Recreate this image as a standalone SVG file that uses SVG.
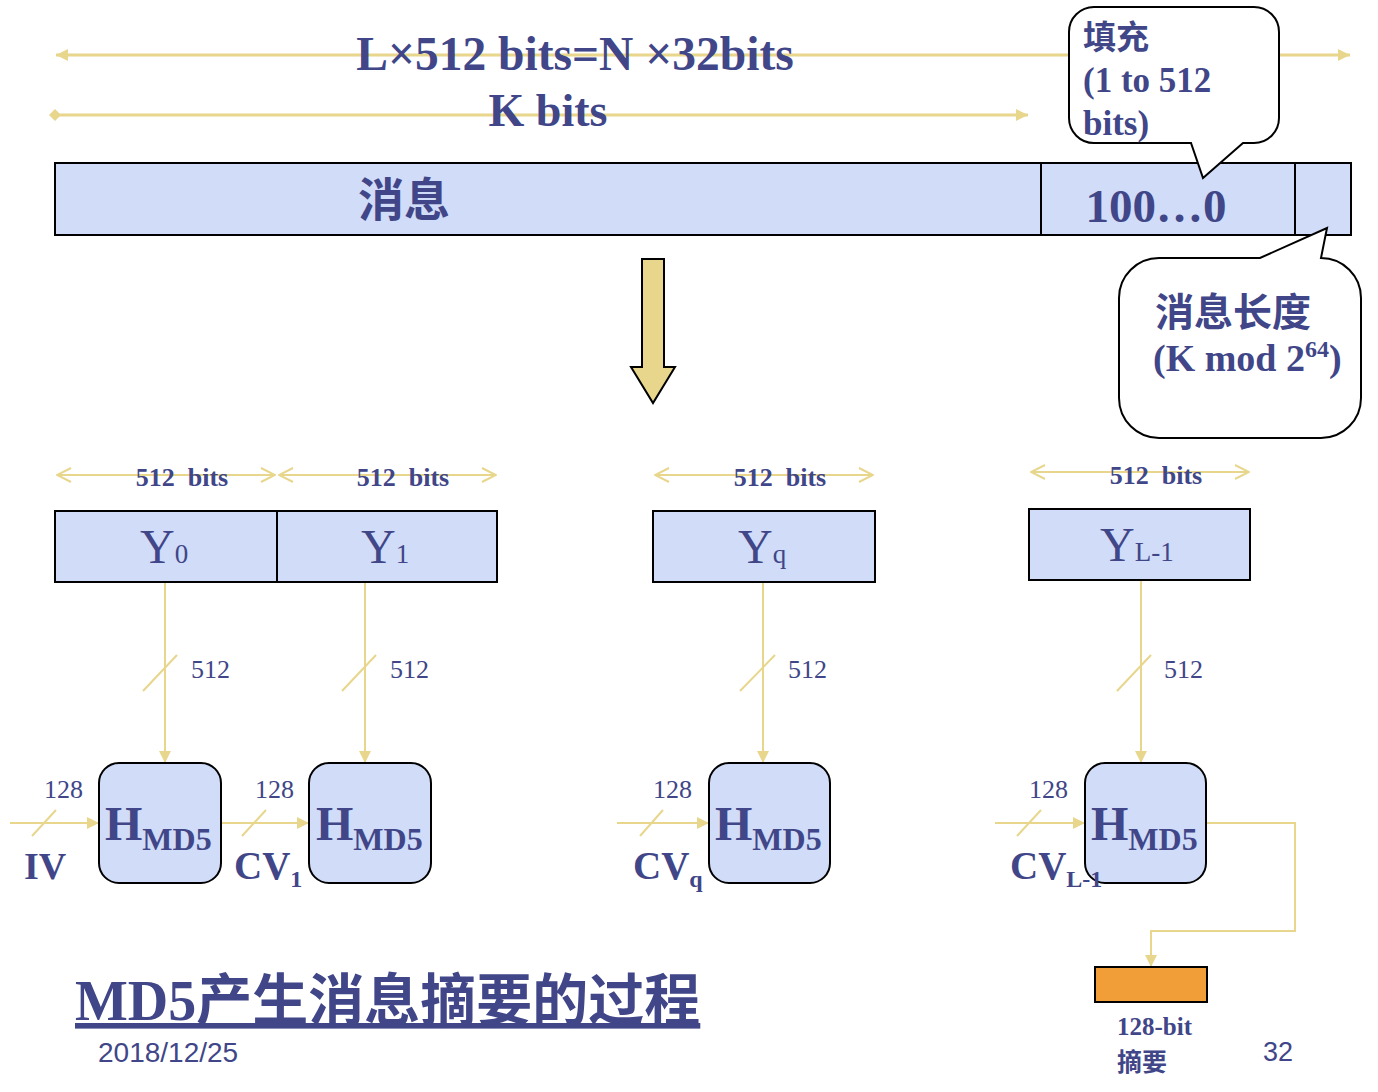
<svg xmlns="http://www.w3.org/2000/svg" width="1378" height="1092" viewBox="0 0 1378 1092">
<style>
.t{fill:#404688;font-family:"Liberation Serif","Noto Sans CJK SC",serif;}
.b{font-weight:bold;}
.cjk{fill:#404688;font-family:"Noto Sans CJK SC",sans-serif;font-weight:bold;}
.sans{fill:#404688;font-family:"Liberation Sans",sans-serif;}
.ln{stroke:#e8d68c;stroke-width:2;fill:none;}
.ln3{stroke:#e8d68c;stroke-width:3;fill:none;}
.blk{fill:#d0dcf8;stroke:#000;stroke-width:2;}
.hm{fill:#d0dcf8;stroke:#000;stroke-width:2;}
.call{fill:#fff;stroke:#000;stroke-width:2;}
.pre{white-space:pre;}
</style>
<defs>
<marker id="tri" viewBox="0 0 12 12" refX="12" refY="6" markerWidth="12" markerHeight="12" markerUnits="userSpaceOnUse" orient="auto-start-reverse"><path d="M0,0 L12,6 L0,12 z" fill="#e8d68c"/></marker>
<marker id="chev" viewBox="0 0 16 16" refX="15" refY="8" markerWidth="16" markerHeight="16" markerUnits="userSpaceOnUse" orient="auto-start-reverse"><path d="M1,1 L15,8 L1,15" fill="none" stroke="#e8d68c" stroke-width="2"/></marker>
<marker id="dia" viewBox="0 0 12 12" refX="6" refY="6" markerWidth="12" markerHeight="12" markerUnits="userSpaceOnUse"><path d="M0,6 L6,0 L12,6 L6,12 z" fill="#e8d68c"/></marker>
</defs>
<rect width="1378" height="1092" fill="#fff"/>

<g id="connectors">
<line class="ln3" x1="56" y1="55" x2="1350" y2="55" marker-start="url(#tri)" marker-end="url(#tri)"/>
<line class="ln3" x1="55" y1="115" x2="1028" y2="115" marker-start="url(#dia)" marker-end="url(#tri)"/>
<line class="ln" x1="57" y1="475" x2="275" y2="475" marker-start="url(#chev)" marker-end="url(#chev)"/>
<line class="ln" x1="279" y1="475" x2="496" y2="475" marker-start="url(#chev)" marker-end="url(#chev)"/>
<line class="ln" x1="655" y1="475" x2="873" y2="475" marker-start="url(#chev)" marker-end="url(#chev)"/>
<line class="ln" x1="1031" y1="472" x2="1249" y2="472" marker-start="url(#chev)" marker-end="url(#chev)"/>
<line class="ln" x1="165" y1="583" x2="165" y2="763" marker-end="url(#tri)"/>
<line class="ln" x1="365" y1="583" x2="365" y2="763" marker-end="url(#tri)"/>
<line class="ln" x1="763" y1="583" x2="763" y2="763" marker-end="url(#tri)"/>
<line class="ln" x1="1141" y1="581" x2="1141" y2="763" marker-end="url(#tri)"/>
<line class="ln" x1="143" y1="691" x2="177" y2="655"/>
<line class="ln" x1="342" y1="691" x2="376" y2="655"/>
<line class="ln" x1="740" y1="691" x2="775" y2="655"/>
<line class="ln" x1="1117" y1="691" x2="1151" y2="655"/>
<line class="ln" x1="10" y1="823" x2="99" y2="823" marker-end="url(#tri)"/>
<line class="ln" x1="221" y1="823" x2="309" y2="823" marker-end="url(#tri)"/>
<line class="ln" x1="617" y1="823" x2="709" y2="823" marker-end="url(#tri)"/>
<line class="ln" x1="995" y1="823" x2="1085" y2="823" marker-end="url(#tri)"/>
<line class="ln" x1="32" y1="836" x2="56" y2="810"/>
<line class="ln" x1="242" y1="836" x2="266" y2="810"/>
<line class="ln" x1="640" y1="836" x2="663" y2="810"/>
<line class="ln" x1="1017" y1="836" x2="1041" y2="810"/>
<polyline class="ln" points="1207,823 1295,823 1295,931 1151,931 1151,967" marker-end="url(#tri)"/>
</g>

<g id="labels-top">
<text class="t b" x="575" y="70" font-size="47.5" text-anchor="middle">L×512 bits=N ×32bits</text>
<text class="t b" x="548" y="126" font-size="46" text-anchor="middle">K bits</text>
</g>

<g id="message">
<rect class="blk" x="55" y="163" width="1296" height="72"/>
<line x1="1041" y1="163" x2="1041" y2="235" stroke="#000" stroke-width="2"/>
<line x1="1295" y1="163" x2="1295" y2="235" stroke="#000" stroke-width="2"/>
<text class="cjk" x="404" y="216" font-size="46" text-anchor="middle">消息</text>
<text class="t b" x="1156" y="222" font-size="47" text-anchor="middle">100…0</text>
</g>

<g id="callout-padding">
<path class="call" d="M1094,7 H1254 A25,25 0 0 1 1279,32 V118 A25,25 0 0 1 1254,143 H1243 L1203,178 L1191,143 H1094 A25,25 0 0 1 1069,118 V32 A25,25 0 0 1 1094,7 Z"/>
<text class="cjk" x="1083" y="49" font-size="33">填充</text>
<text class="t b" x="1083" y="92" font-size="35">(1 to 512</text>
<text class="t b" x="1083" y="135" font-size="35">bits)</text>
</g>

<g id="callout-length">
<path class="call" d="M1159,258 H1260 L1327,228 L1321,258 A40,40 0 0 1 1361,298 V398 A40,40 0 0 1 1321,438 H1159 A40,40 0 0 1 1119,398 V298 A40,40 0 0 1 1159,258 Z"/>
<text class="cjk" x="1155" y="326" font-size="39">消息长度</text>
<text class="t b" x="1153" y="371" font-size="38">(K mod 2<tspan font-size="24" dy="-14">64</tspan><tspan dy="14">)</tspan></text>
</g>

<g id="down-arrow">
<polygon points="642,259 664,259 664,367 675,367 653,403 631,367 642,367" fill="#e8d68c" stroke="#000" stroke-width="2"/>
</g>

<g id="bits-labels">
<text class="t b pre" x="182" y="486" font-size="26" text-anchor="middle">512  bits</text>
<text class="t b pre" x="403" y="486" font-size="26" text-anchor="middle">512  bits</text>
<text class="t b pre" x="780" y="486" font-size="26" text-anchor="middle">512  bits</text>
<text class="t b pre" x="1156" y="484" font-size="26" text-anchor="middle">512  bits</text>
</g>

<g id="Y0">
<rect class="blk" x="55" y="511" width="222" height="71"/>
<text class="t" x="140" y="563" font-size="48">Y<tspan font-size="27">0</tspan></text>
</g>
<g id="Y1">
<rect class="blk" x="277" y="511" width="220" height="71"/>
<text class="t" x="361" y="563" font-size="48">Y<tspan font-size="27">1</tspan></text>
</g>
<g id="Yq">
<rect class="blk" x="653" y="511" width="222" height="71"/>
<text class="t" x="738" y="563" font-size="48">Y<tspan font-size="27">q</tspan></text>
</g>
<g id="YL-1">
<rect class="blk" x="1029" y="509" width="221" height="71"/>
<text class="t" x="1100" y="561" font-size="48">Y<tspan font-size="27">L-1</tspan></text>
</g>

<g id="width-labels">
<text class="t" x="191" y="678" font-size="26">512</text>
<text class="t" x="390" y="678" font-size="26">512</text>
<text class="t" x="788" y="678" font-size="26">512</text>
<text class="t" x="1164" y="678" font-size="26">512</text>
<text class="t" x="44" y="798" font-size="26">128</text>
<text class="t" x="255" y="798" font-size="26">128</text>
<text class="t" x="653" y="798" font-size="26">128</text>
<text class="t" x="1029" y="798" font-size="26">128</text>
</g>

<g id="H0">
<rect class="hm" x="99" y="763" width="122" height="120" rx="20"/>
<text class="t b" x="105" y="840" font-size="48">H<tspan font-size="32" dy="10">MD5</tspan></text>
</g>
<g id="H1">
<rect class="hm" x="309" y="763" width="122" height="120" rx="20"/>
<text class="t b" x="316" y="840" font-size="48">H<tspan font-size="32" dy="10">MD5</tspan></text>
</g>
<g id="Hq">
<rect class="hm" x="709" y="763" width="121" height="120" rx="20"/>
<text class="t b" x="715" y="840" font-size="48">H<tspan font-size="32" dy="10">MD5</tspan></text>
</g>
<g id="HL-1">
<rect class="hm" x="1085" y="763" width="121" height="120" rx="20"/>
<text class="t b" x="1091" y="840" font-size="48">H<tspan font-size="32" dy="10">MD5</tspan></text>
</g>

<g id="chain-labels">
<text class="t b" x="24" y="879" font-size="38">IV</text>
<text class="t b" x="234" y="879" font-size="39">CV<tspan font-size="24" dy="8">1</tspan></text>
<text class="t b" x="633" y="879" font-size="39">CV<tspan font-size="24" dy="8">q</tspan></text>
<text class="t b" x="1010" y="879" font-size="39">CV<tspan font-size="24" dy="8">L-1</tspan></text>
</g>

<g id="digest">
<rect x="1095" y="967" width="112" height="35" fill="#f29e38" stroke="#000" stroke-width="2"/>
<text class="t b" x="1117" y="1035" font-size="25">128-bit</text>
<text class="cjk" x="1117" y="1071" font-size="25">摘要</text>
</g>

<g id="footer">
<text class="t b" x="75" y="1020" font-size="56" text-decoration="underline">MD5产生消息摘要的过程</text>
<text class="sans" x="98" y="1062" font-size="28">2018/12/25</text>
<text class="sans" x="1263" y="1061" font-size="27">32</text>
</g>
</svg>
